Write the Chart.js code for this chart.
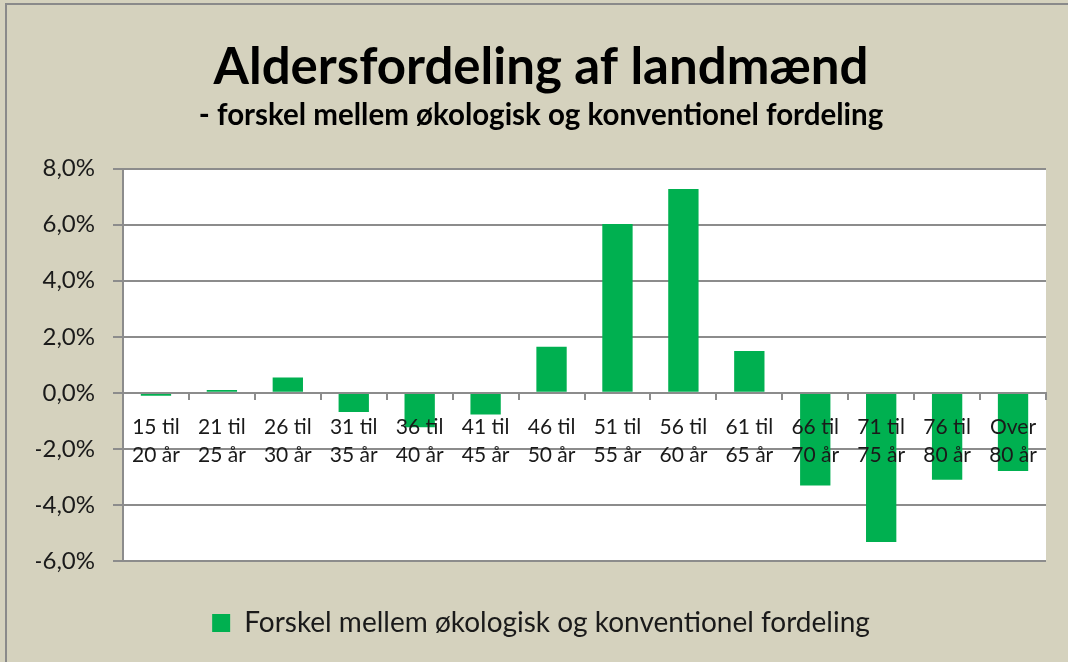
<!DOCTYPE html>
<html>
<head>
<meta charset="utf-8">
<script src="https://cdn.jsdelivr.net/npm/chart.js@4/dist/chart.umd.min.js"></script>
<style>
  html, body { margin: 0; padding: 0; background: #d5d2be; }
  #wrap { width: 1068px; height: 662px; }
</style>
</head>
<body>
<div id="wrap"><canvas id="chart" width="1068" height="662"></canvas></div>
<script>
// Data
const ageGroups = [
    ["15 til", "20 år"], ["21 til", "25 år"], ["26 til", "30 år"], ["31 til", "35 år"],
    ["36 til", "40 år"], ["41 til", "45 år"], ["46 til", "50 år"], ["51 til", "55 år"],
    ["56 til", "60 år"], ["61 til", "65 år"], ["66 til", "70 år"], ["71 til", "75 år"],
    ["76 til", "80 år"], ["Over", "80 år"]
];
const difference = [-0.1, 0.1, 0.55, -0.68, -1.23, -0.77, 1.64, 6.02, 7.27, 1.49, -3.31, -5.32, -3.1, -2.79];
const seriesName = "Forskel mellem økologisk og konventionel fordeling";
const titleText = "Aldersfordeling af landmænd";
const subtitleText = "- forskel mellem økologisk og konventionel fordeling";

const FONT = "Lato, 'Open Sans', sans-serif";
const GRID = "#8c8c8c";

// Beige frame and white plot area
const frame = {
    id: "frame",
    beforeDraw(chart) {
        const ctx = chart.ctx;
        const a = chart.chartArea;
        ctx.save();
        ctx.fillStyle = "#d5d2be";
        ctx.fillRect(0, 0, chart.width, chart.height);
        ctx.strokeStyle = "#8a8a8a";
        ctx.lineWidth = 2;
        ctx.beginPath();
        ctx.moveTo(6, chart.height);
        ctx.lineTo(6, 4);
        ctx.lineTo(chart.width, 4);
        ctx.stroke();
        ctx.fillStyle = "#ffffff";
        ctx.fillRect(a.left, a.top, a.right - a.left, a.bottom - a.top);
        ctx.restore();
    }
};

new Chart(document.getElementById("chart"), {
    type: "bar",
    data: {
        labels: ageGroups,
        datasets: [{
            label: seriesName,
            data: difference,
            backgroundColor: "#00b050",
            borderWidth: 0,
            barPercentage: 0.46,
            categoryPercentage: 1
        }]
    },
    options: {
        responsive: false,
        animation: false,
        layout: { padding: { top: 37, right: 22, bottom: 15, left: 36 } },
        scales: {
            x: {
                position: { y: 0 },
                grid: { drawOnChartArea: false, drawTicks: true, tickLength: 6, color: GRID, lineWidth: 2, z: 1 },
                border: { display: true, color: GRID, width: 2, z: 1 },
                ticks: { z: 1, color: "#1a1a1a", font: { family: FONT, size: 21, lineHeight: 1.35 }, padding: 14, maxRotation: 0, autoSkip: false }
            },
            y: {
                min: -6,
                max: 8,
                afterFit(scale) { scale.width = 87; },
                grid: { color: GRID, lineWidth: 2, tickLength: 10 },
                border: { display: true, color: GRID, width: 2 },
                ticks: {
                    stepSize: 2,
                    color: "#1a1a1a",
                    padding: 18,
                    font: { family: FONT, size: 24 },
                    callback: v => v.toFixed(1).replace(".", ",") + "%"
                }
            }
        },
        plugins: {
            title: {
                display: true,
                text: titleText,
                color: "#000",
                font: { family: FONT, size: 51, weight: "bold" },
                padding: { top: 0, bottom: 0 }
            },
            subtitle: {
                display: true,
                text: subtitleText,
                color: "#000",
                font: { family: FONT, size: 29.5, weight: "bold" },
                padding: { top: 0, bottom: 35 }
            },
            legend: {
                position: "bottom",
                labels: {
                    color: "#1a1a1a",
                    font: { family: FONT, size: 28 },
                    boxWidth: 18,
                    boxHeight: 18,
                    padding: 48
                }
            },
            tooltip: { enabled: false }
        }
    },
    plugins: [frame]
});
</script>
</body>
</html>
